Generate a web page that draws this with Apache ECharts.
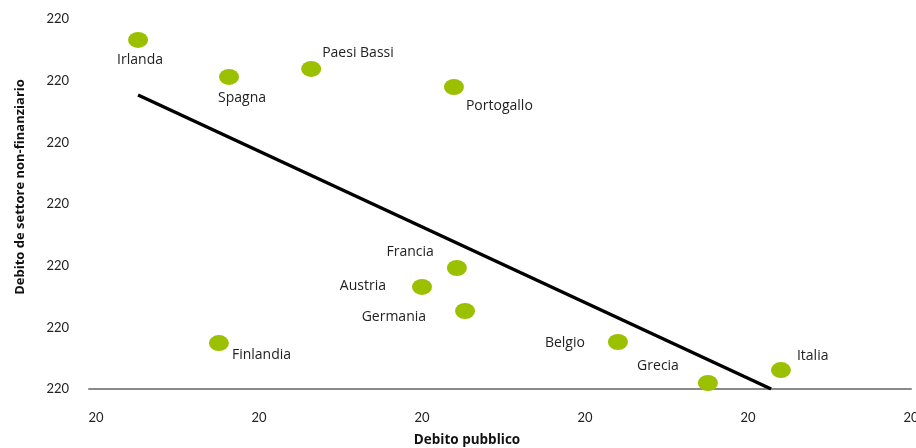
<!DOCTYPE html>
<html>
<head>
<meta charset="utf-8">
<script src="https://cdn.jsdelivr.net/npm/echarts@6/dist/echarts.min.js"></script>
<style>html,body{margin:0;padding:0;background:#fff;}#c{width:916px;height:448px;}</style>
</head>
<body>
<div id="c"></div>
<script>
// Data
var countries = ['Irlanda','Spagna','Paesi Bassi','Portogallo','Francia','Austria','Germania','Finlandia','Belgio','Grecia','Italia'];
var publicDebt = [12.9, 40.8, 66.0, 109.8, 110.7, 100.0, 113.2, 37.7, 160.1, 187.7, 210.1];
var privateDebt = [226.4, 202.4, 207.6, 195.9, 78.5, 66.2, 50.6, 29.8, 30.5, 3.9, 12.3];
var trendX = [12.9, 207.1];
var trendY = [190.7, 0];
var xTickValues = [0, 50, 100, 150, 200, 250];
var xTickLabels = ['20','20','20','20','20','20'];
var yTickLabels = ['220','220','220','220','220','220','220'];

// label placement (style only)
var labelPlace = {
  'Irlanda': ['center', [2, 20]],
  'Spagna': ['center', [13, 21]],
  'Paesi Bassi': ['left', [11, -16]],
  'Portogallo': ['left', [12, 19]],
  'Francia': ['right', [-23, -16]],
  'Austria': ['right', [-36, -1]],
  'Germania': ['right', [-39, 6]],
  'Finlandia': ['left', [13, 12]],
  'Belgio': ['right', [-33, 1]],
  'Grecia': ['right', [-29, -17]],
  'Italia': ['left', [16, -14]]
};

var scatterData = countries.map(function (c, i) {
  var p = labelPlace[c];
  return {
    name: c,
    value: [publicDebt[i], privateDebt[i]],
    label: { align: p[0], offset: p[1] }
  };
});

var chart = echarts.init(document.getElementById('c'), null, { renderer: 'canvas' });
var tickFont = 'Lato, "Open Sans", sans-serif';
var textFont = '"Open Sans", "Noto Sans", sans-serif';
chart.setOption({
  animation: false,
  grid: { left: 89, right: 5, top: 19, bottom: 59, containLabel: false, outerBoundsMode: 'none' },
  xAxis: {
    type: 'value', min: -2.15, max: 250,
    axisLine: { show: true, lineStyle: { color: '#8a8a8a', width: 2 } },
    axisTick: { show: false },
    splitLine: { show: false },
    axisLabel: {
      margin: 22, color: '#222', fontSize: 13, fontFamily: tickFont,
      customValues: xTickValues,
      formatter: function (v) { return xTickLabels[xTickValues.indexOf(Math.round(v))] || ''; }
    },
    name: 'Debito pubblico', nameLocation: 'middle', nameGap: 44,
    nameTextStyle: { fontWeight: 'bold', fontSize: 13.5, color: '#111', fontFamily: textFont, padding: [0, 66, 0, 0] }
  },
  yAxis: {
    type: 'value', min: 0, max: 240, interval: 40,
    axisLine: { show: false }, axisTick: { show: false }, splitLine: { show: false },
    axisLabel: {
      margin: 20, color: '#222', fontSize: 13, fontFamily: tickFont,
      formatter: function (v) { return yTickLabels[Math.round(v / 40)]; }
    },
    name: 'Debito de settore non-finanziario', nameLocation: 'middle', nameGap: 62,
    nameTextStyle: { fontWeight: 'bold', fontSize: 13, color: '#111', fontFamily: textFont, padding: [0, 0, 0, 34] }
  },
  series: [
    {
      type: 'line',
      data: trendX.map(function (x, i) { return [x, trendY[i]]; }),
      symbol: 'none',
      lineStyle: { color: '#000', width: 3.5 },
      z: 1
    },
    {
      type: 'scatter',
      data: scatterData,
      symbol: 'circle',
      symbolSize: [20, 16],
      itemStyle: { color: '#9ac000', opacity: 1 },
      label: {
        show: true, position: 'inside', verticalAlign: 'middle',
        formatter: '{b}', color: '#222', fontSize: 14, fontFamily: textFont
      },
      z: 2
    }
  ]
});
</script>
</body>
</html>
